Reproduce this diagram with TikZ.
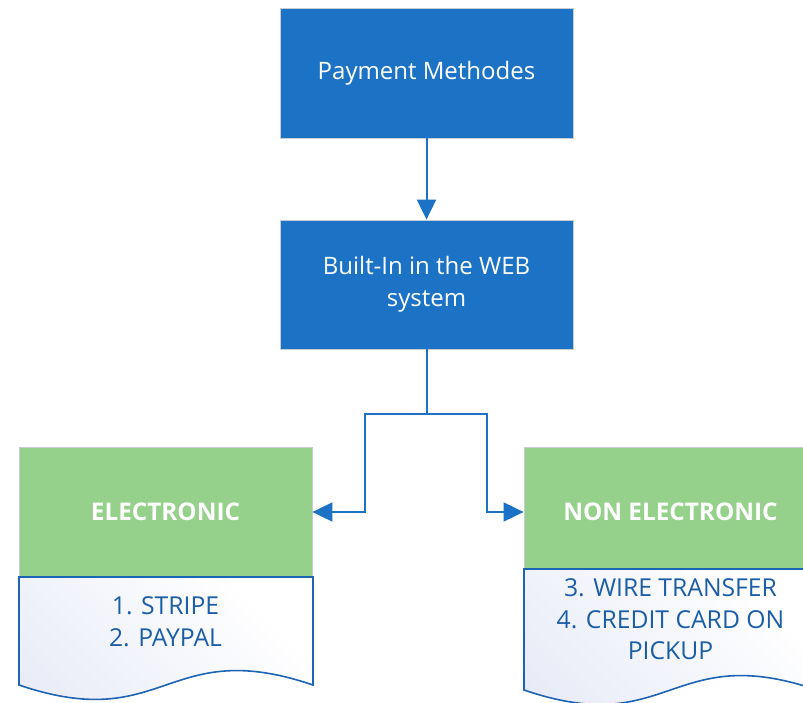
\documentclass[tikz,border=0pt]{standalone}
\usepackage{fontspec}
\setmainfont{Open Sans}
\usetikzlibrary{arrows.meta}
\definecolor{boxblue}{RGB}{28,115,198}
\definecolor{boxgreen}{RGB}{149,209,138}
\definecolor{boxedge}{RGB}{200,205,212}
\definecolor{doctext}{RGB}{27,94,168}
\definecolor{docedge}{RGB}{30,100,180}
\definecolor{doctop}{RGB}{226,230,245}
\tikzset{
  bluebox/.style={rectangle, fill=boxblue, draw=boxedge, line width=0.8pt, minimum width=293pt, minimum height=130pt, inner sep=0pt, text=white, align=center, font=\fontsize{24}{32}\selectfont},
  greenbox/.style={rectangle, fill=boxgreen, draw=boxedge, line width=0.8pt, minimum width=293pt, minimum height=130pt, inner sep=0pt, text=white, align=center, font=\bfseries\fontsize{24.3}{32}\selectfont},
  doctxt/.style={text=doctext, align=center, inner sep=0pt, font=\fontsize{24.7}{31.5}\selectfont},
  docline/.style={draw=docedge, line width=1.6pt},
  docshade/.style={shading=axis, top color=doctop, bottom color=white, shading angle=135},
  conn/.style={draw=boxblue, line width=2pt},
  arr/.style={-{Triangle[length=20pt,width=19pt]}}
}
\begin{document}
\begin{tikzpicture}[x=1pt,y=-1pt]
\useasboundingbox (0,0) rectangle (803,703);
\clip (0,0) rectangle (803,703);
\node[bluebox] (pm) at (426.5,73) {Payment Methodes};
\node[bluebox, minimum height=129pt] (bw) at (426.5,284.5) {Built-In in the WEB\\system};
\node[greenbox] (el) at (165.5,512) {ELECTRONIC};
\node[greenbox] (ne) at (670.5,512) {NON ELECTRONIC};
% document shapes
\begin{scope}
  \clip (19,577) -- (19,685) .. controls (166,735) and (166,635) .. (313,685) -- (313,577) -- cycle;
  \shade[docshade] (19,570) rectangle (313,864);
\end{scope}
\draw[docline] (19,577) -- (19,685) .. controls (166,735) and (166,635) .. (313,685) -- (313,577) -- cycle;
\begin{scope}
  \clip (524,569) -- (524,690) .. controls (670.5,740) and (670.5,640) .. (817,690) -- (817,569) -- cycle;
  \shade[docshade] (524,562) rectangle (817,855);
\end{scope}
\draw[docline] (524,569) -- (524,690) .. controls (670.5,740) and (670.5,640) .. (817,690) -- (817,569) -- cycle;
\node[doctxt] (l1) at (165.5,621.5) {1. STRIPE\\2. PAYPAL};
\node[doctxt] (l2) at (670.5,619.5) {3. WIRE TRANSFER\\4. CREDIT CARD ON\\PICKUP};
% connectors
\coordinate (jm) at (426.5,414);
\coordinate (jl) at (365,414);
\coordinate (jr) at (487,414);
\draw[conn,arr] (pm.south) -- (bw.north);
\draw[conn,arr] (bw.south) -- (jm) -- (jl) |- (el.east);
\draw[conn,arr] (jm) -- (jr) |- (ne.west);
\end{tikzpicture}
\end{document}
